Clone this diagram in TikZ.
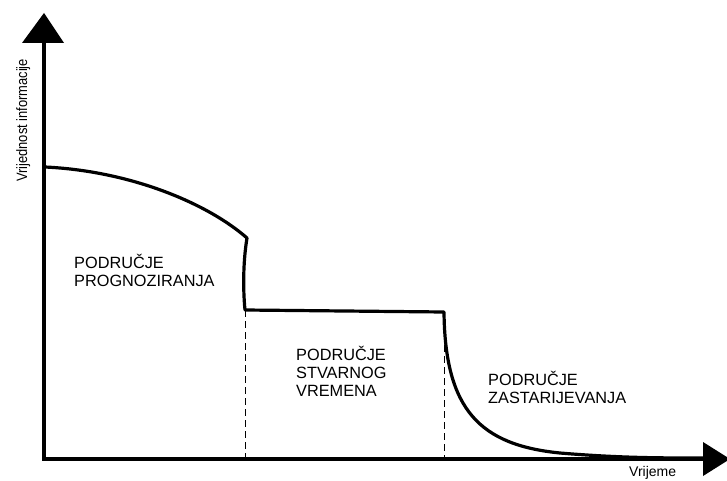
\documentclass[tikz,border=0pt]{standalone}
\usepackage{fontspec}
\setmainfont{Liberation Sans}
\begin{document}
\begin{tikzpicture}[x=1pt,y=-1pt,
  axis/.style={line width=4.4pt},
  curve/.style={line width=3.2pt, line join=round},
  guide/.style={line width=1pt, dash pattern=on 7pt off 4pt},
  region/.style={anchor=north west, align=left, inner sep=0pt,
    font=\fontsize{16.3}{17.8}\selectfont},
  axlabel/.style={inner sep=0pt, font=\fontsize{15}{17}\selectfont}]
\useasboundingbox[fill=white] (0,0) rectangle (727,481);
% axes
\coordinate (O) at (44,459);
\coordinate (ytip) at (44,13);
\coordinate (xtip) at (730,459);
\draw[axis] (O) -- (44,40);
\draw[axis] (42,459) -- (706,459);
\fill (ytip) -- (22,43) -- (64,43) -- cycle;
\fill (xtip) -- (703,442) -- (703,476) -- cycle;
% curve
\coordinate (c0) at (45,167);
\coordinate (c1) at (247,238);
\coordinate (c2) at (245,310);
\coordinate (c3) at (444,312);
\coordinate (c4) at (560,453);
\coordinate (c5) at (705,458);
\draw[curve] (c0) .. controls (130,171) and (207,203) .. (c1)
  .. controls (243,262) and (243,290) .. (c2)
  -- (c3)
  .. controls (445,410) and (480,445) .. (c4)
  .. controls (620,458) and (660,458) .. (c5);
% dashed guides
\draw[guide] (c2) -- (245,457);
\draw[guide] (c3) -- (444,457);
% labels
\node[region] (r1) at (74,254) {PODRUČJE\\PROGNOZIRANJA};
\node[region] (r2) at (296,346) {PODRUČJE\\STVARNOG\\VREMENA};
\node[region] (r3) at (488,371) {PODRUČJE\\ZASTARIJEVANJA};
\node[axlabel, rotate=90, anchor=south west] (yl) at (30.5,182)
  {\scalebox{0.86}[1]{Vrijednost informacije}};
\node[axlabel, anchor=north west, font=\fontsize{14}{16}\selectfont] (xl) at (629,466.5)
  {Vrijeme};
\end{tikzpicture}
\end{document}
